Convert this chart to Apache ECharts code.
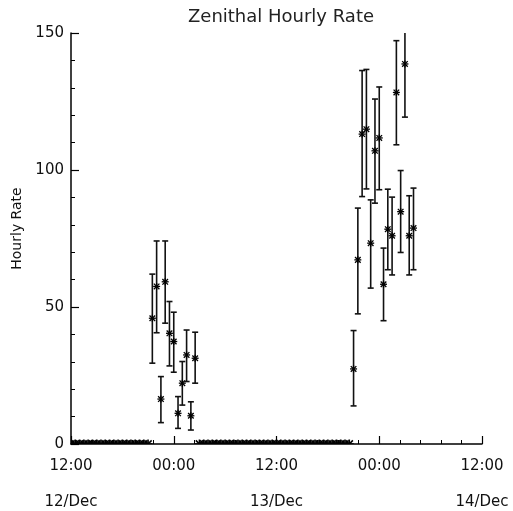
<!DOCTYPE html>
<html>
<head>
<meta charset="utf-8">
<script src="https://cdn.jsdelivr.net/npm/echarts@6/dist/echarts.min.js"></script>
<style>
  html, body { margin: 0; padding: 0; background: #fff; }
  #main { width: 513px; height: 511px; }
</style>
</head>
<body>
<div id="main"></div>
<script>
// times are "day hh:mm" in December
var burst1Times = ['12 21:30', '12 22:00', '12 22:30', '12 23:00', '12 23:30', '13 00:00',
                   '13 00:30', '13 01:00', '13 01:30', '13 02:00', '13 02:30'];
var burst1Rate  = [45.9, 57.5, 16.4, 59.2, 40.4, 37.4, 11.2, 22.2, 32.5, 10.3, 31.3];
var burst1Low   = [29.5, 40.6, 7.8, 44.1, 28.5, 26.2, 5.7, 14.2, 22.8, 5.1, 22.2];
var burst1High  = [62.0, 74.1, 24.6, 74.1, 52.0, 48.1, 17.3, 30.1, 41.6, 15.4, 40.8];

var burst2Times = ['13 21:00', '13 21:30', '13 22:00', '13 22:30', '13 23:00', '13 23:30', '14 00:00',
                   '14 00:30', '14 01:00', '14 01:30', '14 02:00', '14 02:30', '14 03:00', '14 03:30', '14 04:00'];
var burst2Rate  = [27.4, 67.2, 113.1, 114.9, 73.3, 107.0, 111.7, 58.3, 78.4, 76.0, 128.3, 84.8, 138.7, 76.0, 78.8];
var burst2Low   = [13.9, 47.5, 90.3, 93.1, 56.9, 87.9, 92.8, 45.0, 63.6, 61.7, 109.2, 69.9, 119.3, 61.7, 63.6];
var burst2High  = [41.4, 86.1, 136.3, 136.7, 89.1, 125.9, 130.3, 71.5, 93.0, 90.1, 147.2, 99.8, 158.0, 90.6, 93.4];

// bins with no meteors counted
var zeroTimes = ['12 12:00', '12 12:30', '12 13:00', '12 13:30', '12 14:00', '12 14:30', '12 15:00',
                 '12 15:30', '12 16:00', '12 16:30', '12 17:00', '12 17:30', '12 18:00', '12 18:30',
                 '12 19:00', '12 19:30', '12 20:00', '12 20:30', '12 21:00',
                 '13 03:00', '13 03:30', '13 04:00', '13 04:30', '13 05:00', '13 05:30', '13 06:00',
                 '13 06:30', '13 07:00', '13 07:30', '13 08:00', '13 08:30', '13 09:00', '13 09:30',
                 '13 10:00', '13 10:30', '13 11:00', '13 11:30', '13 12:00', '13 12:30', '13 13:00',
                 '13 13:30', '13 14:00', '13 14:30', '13 15:00', '13 15:30', '13 16:00', '13 16:30',
                 '13 17:00', '13 17:30', '13 18:00', '13 18:30', '13 19:00', '13 19:30', '13 20:00',
                 '13 20:30'];

var timeTickLabels = ['12:00', '00:00', '12:00', '00:00', '12:00'];
var dateTickLabels = ['12/Dec', '', '13/Dec', '', '14/Dec'];

// hours counted from 12/Dec 00:00
function toHours(s) {
    var day = parseInt(s.split(' ')[0], 10);
    var hm = s.split(' ')[1].split(':');
    return (day - 12) * 24 + parseInt(hm[0], 10) + parseInt(hm[1], 10) / 60;
}

var points = [];
zeroTimes.forEach(function (t) { points.push([toHours(t), 0, 0, 0]); });
burst1Times.forEach(function (t, i) { points.push([toHours(t), burst1Rate[i], burst1Low[i], burst1High[i]]); });
burst2Times.forEach(function (t, i) { points.push([toHours(t), burst2Rate[i], burst2Low[i], burst2High[i]]); });

function renderItem(params, api) {
    var x = api.value(0), v = api.value(1), lo = api.value(2), hi = api.value(3);
    var p = api.coord([x, v]);
    var kids = [];
    var barStyle = { stroke: '#111', lineWidth: 1.6 };
    if (hi > lo) {
        var pl = api.coord([x, lo]), ph = api.coord([x, hi]);
        kids.push({ type: 'line', shape: { x1: p[0], y1: pl[1], x2: p[0], y2: ph[1] }, style: barStyle });
        kids.push({ type: 'line', shape: { x1: p[0] - 3, y1: pl[1], x2: p[0] + 3, y2: pl[1] }, style: barStyle });
        kids.push({ type: 'line', shape: { x1: p[0] - 3, y1: ph[1], x2: p[0] + 3, y2: ph[1] }, style: barStyle });
    }
    var r = v === 0 ? 4.5 : 3.5, st = { stroke: '#000', lineWidth: v === 0 ? 1.6 : 1.3 };
    kids.push({ type: 'line', shape: { x1: p[0], y1: p[1] - r, x2: p[0], y2: p[1] + r }, style: st });
    kids.push({ type: 'line', shape: { x1: p[0] - r, y1: p[1], x2: p[0] + r, y2: p[1] }, style: st });
    kids.push({ type: 'line', shape: { x1: p[0] - r * 0.8, y1: p[1] - r * 0.8, x2: p[0] + r * 0.8, y2: p[1] + r * 0.8 }, style: st });
    kids.push({ type: 'line', shape: { x1: p[0] - r * 0.8, y1: p[1] + r * 0.8, x2: p[0] + r * 0.8, y2: p[1] - r * 0.8 }, style: st });
    return { type: 'group', children: kids };
}

var font = 'DejaVu Sans';

var option = {
    backgroundColor: '#fff',
    animation: false,
    title: {
        text: 'Zenithal Hourly Rate',
        left: 276, top: 3, textAlign: 'center',
        textStyle: { fontFamily: font, fontSize: 18, fontWeight: 'normal', color: '#222' }
    },
    grid: { left: 71, right: 31, top: 33, bottom: 67 },
    xAxis: {
        type: 'value', min: 12, max: 60, interval: 12,
        axisLine: { lineStyle: { color: '#000', width: 1.5 } },
        axisTick: { inside: true, length: 8, lineStyle: { color: '#000', width: 1.2 } },
        minorTick: { show: true, splitNumber: 5, length: 4, lineStyle: { color: '#000', width: 1 } },
        splitLine: { show: false },
        axisLabel: {
            margin: 13, color: '#111', fontFamily: font, fontSize: 15, lineHeight: 18,
            formatter: function (v) {
                var k = Math.round((v - 12) / 12);
                return timeTickLabels[k] + '\n\n' + (dateTickLabels[k] || ' ');
            }
        }
    },
    yAxis: {
        type: 'value', min: 0, max: 150, interval: 50,
        name: 'Hourly Rate', nameLocation: 'middle', nameGap: 47, nameRotate: 90,
        nameTextStyle: { color: '#111', fontFamily: font, fontSize: 14, padding: [0, 0, 0, 20] },
        axisLine: { show: true, lineStyle: { color: '#000', width: 1.5 } },
        axisTick: { show: true, inside: true, length: 8, lineStyle: { color: '#000', width: 1.2 } },
        minorTick: { show: true, splitNumber: 5, length: 4, lineStyle: { color: '#000', width: 1 } },
        splitLine: { show: false },
        axisLabel: { margin: 7, color: '#111', fontFamily: font, fontSize: 15 }
    },
    series: [{
        type: 'custom',
        clip: true,
        renderItem: renderItem,
        encode: { x: 0, y: 1 },
        data: points
    }]
};

var chart = echarts.init(document.getElementById('main'));
chart.setOption(option);
</script>
</body>
</html>
